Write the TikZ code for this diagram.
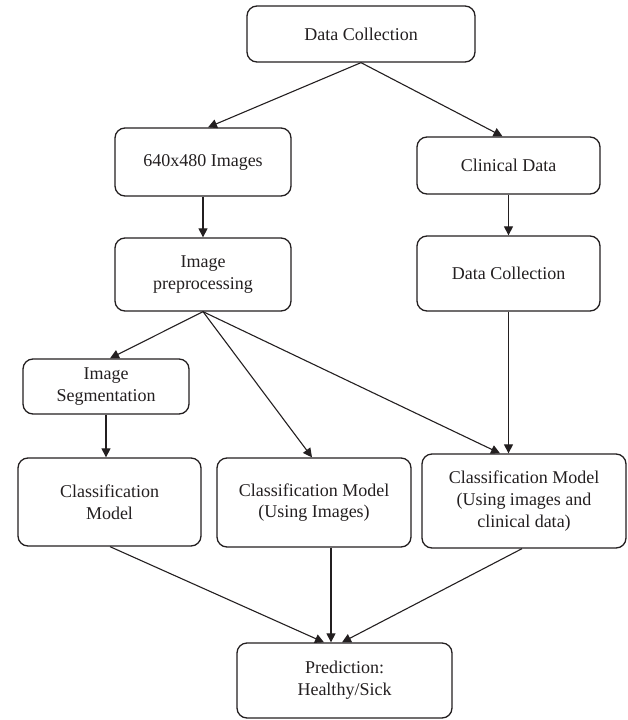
\documentclass[tikz,border=0pt]{standalone}
\usepackage{fontspec}
\setmainfont{Liberation Serif}
\usetikzlibrary{arrows.meta}
\definecolor{ink}{HTML}{231F20}
\tikzset{
  box/.style={draw=ink, line width=1.3pt, rounded corners=10pt, align=center,
    inner sep=0pt, font=\fontsize{18}{21.7}\selectfont, text=ink},
  conn/.style={draw=ink, line width=1.1pt, -{Triangle[length=9pt,width=9pt]}}
}
\begin{document}
\begin{tikzpicture}[x=1pt,y=-1pt]
\useasboundingbox (0,0) rectangle (627,720);
\node[box, minimum width=228pt, minimum height=56pt] (dc1) at (361,34) {Data Collection};
\node[box, minimum width=176pt, minimum height=68pt] (img) at (203,162) {640x480 Images};
\node[box, minimum width=183pt, minimum height=57pt] (clin) at (508.5,165.5) {Clinical Data};
\node[box, minimum width=176pt, minimum height=73pt] (pre) at (203,274.5) {Image\\preprocessing};
\node[box, minimum width=183pt, minimum height=75pt] (dc2) at (508.5,273.5) {Data Collection};
\node[box, minimum width=166pt, minimum height=55pt] (seg) at (106,386.5) {Image\\Segmentation};
\node[box, minimum width=183pt, minimum height=88pt] (cm1) at (109.5,502) {Classification\\Model};
\node[box, minimum width=194pt, minimum height=89pt] (cm2) at (314,502.5) {Classification Model\\(Using Images)};
\node[box, minimum width=204pt, minimum height=94pt] (cm3) at (524,501) {Classification Model\\(Using images and\\clinical data)};
\node[box, minimum width=215pt, minimum height=75pt] (pred) at (344.5,680.5) {Prediction:\\Healthy/Sick};

\draw[conn] (dc1.south) -- ([xshift=5pt]img.north);
\draw[conn] (dc1.south) -- ([xshift=-6pt]clin.north);
\draw[conn] (img.south) -- (pre.north);
\draw[conn] (clin.south) -- (dc2.north);
\draw[conn] (pre.south) -- ([xshift=4pt]seg.north);
\draw[conn] (pre.south) -- ([xshift=-2pt]cm2.north);
\draw[conn] (pre.south) -- ([xshift=-24pt]cm3.north);
\draw[conn] (dc2.south) -- ([xshift=-15.5pt]cm3.north);
\draw[conn] (seg.south) -- (seg.south |- cm1.north);
\draw[conn] ([xshift=0.5pt]cm1.south) -- ([xshift=-20.5pt]pred.north);
\draw[conn] ([xshift=17pt]cm2.south) -- ([xshift=17pt]cm2.south |- pred.north);
\draw[conn] ([xshift=-2pt]cm3.south) -- ([xshift=-2.5pt]pred.north);
\end{tikzpicture}
\end{document}
